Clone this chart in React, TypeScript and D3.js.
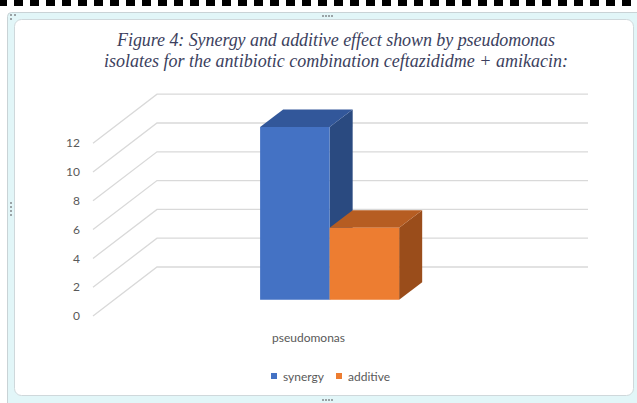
import React from "react";
import * as d3 from "d3";

const titleLines = [
  "Figure 4: Synergy and additive effect shown by pseudomonas",
  "isolates for the antibiotic combination ceftazididme + amikacin:",
];
const categories = ["pseudomonas"];
const seriesNames = ["synergy", "additive"];
const synergyValues = [12];
const additiveValues = [5];
const yTicks = [0, 2, 4, 6, 8, 10, 12];

const W = 637;
const H = 403;

const colors: Record<string, { front: string; top: string; side: string }> = {
  synergy: { front: "#4472C4", top: "#32579A", side: "#2A4A80" },
  additive: { front: "#ED7D31", top: "#B65D22", side: "#9A4D1B" },
};

export default function App() {
  const x0 = 93;
  const x1 = 524;
  const depth = { dx: 64, dy: -49 };
  const yFront = d3.scaleLinear().domain([0, 12]).range([316, 143.2]);
  const P = (x: number, v: number, z: number): [number, number] => [
    x + z * depth.dx,
    yFront(v) + z * depth.dy,
  ];
  const pts = (a: [number, number][]) => a.map((p) => p.join(",")).join(" ");

  const xCat = d3.scaleBand<string>().domain(categories).range([x0, x1]).paddingOuter(1.05).paddingInner(0);
  const xSer = d3.scaleBand<string>().domain(seriesNames).range([0, xCat.bandwidth()]);
  const zA = 0.33;
  const zB = 0.69;

  const seriesData: Record<string, number[]> = { synergy: synergyValues, additive: additiveValues };

  const bars: React.ReactNode[] = [];
  categories.forEach((c, ci) => {
    seriesNames.forEach((s) => {
      const v = seriesData[s][ci];
      const L = (xCat(c) as number) + (xSer(s) as number);
      const R = L + xSer.bandwidth();
      const col = colors[s];
      const side = [P(R, 0, zA), P(R, 0, zB), P(R, v, zB), P(R, v, zA)];
      const top = [P(L, v, zA), P(L, v, zB), P(R, v, zB), P(R, v, zA)];
      const front = [P(L, 0, zA), P(R, 0, zA), P(R, v, zA), P(L, v, zA)];
      bars.push(
        <g key={c + s}>
          <polygon points={pts(side)} fill={col.side} />
          <polygon points={pts(top)} fill={col.top} />
          <polygon points={pts(front)} fill={col.front} />
        </g>
      );
    });
  });

  const dashes = d3.range(-2, W, 16);

  return (
    <div style={{ position: "fixed", left: 0, top: 0, width: W, height: H, background: "#fff" }}>
      <svg width={W} height={H} style={{ display: "block" }}>
        <rect x={0} y={0} width={W} height={H} fill="#fff" />
        {dashes.map((d) => (
          <rect key={d} x={d} y={0} width={9} height={6} fill="#000" />
        ))}
        <rect x={7.5} y={12.5} width={640} height={400} rx={4} fill="#E2F6F8" stroke="#C9D3D6" />
        <rect x={14.5} y={19.5} width={619} height={376} rx={7} fill="#fff" stroke="#CFD8DB" />
        {[
          [11, 15],
          [15, 15],
          [11, 19],
        ].map(([x, y], i) => (
          <rect key={"c" + i} x={x - 1} y={y - 1} width={2} height={2} fill="#9AA3A6" />
        ))}
        {[0, 1, 2, 3].map((i) => (
          <rect key={"t" + i} x={322 + i * 3} y={15} width={2} height={2} fill="#9AA3A6" />
        ))}
        {[0, 1, 2, 3].map((i) => (
          <rect key={"l" + i} x={10} y={202 + i * 4} width={2} height={2} fill="#9AA3A6" />
        ))}
        {[0, 1, 2, 3].map((i) => (
          <rect key={"b" + i} x={322 + i * 3} y={399} width={2} height={2} fill="#9AA3A6" />
        ))}

        {titleLines.map((t, i) => (
          <text
            key={i}
            x={336}
            y={46 + i * 20.5}
            textAnchor="middle"
            fontFamily="'Liberation Serif', 'DejaVu Serif', serif"
            fontStyle="italic"
            fontSize={18}
            fill="#3C3F5E"
            textLength={i === 0 ? 438 : 464}
            lengthAdjust="spacing"
          >
            {t}
          </text>
        ))}

        {yTicks.map((v) => (
          <polyline
            key={"g" + v}
            points={pts([P(x0, v, 0), P(x0, v, 1), P(x1, v, 1)])}
            fill="none"
            stroke="#D9D9D9"
            strokeWidth={1.3}
          />
        ))}

        {yTicks.map((v) => (
          <text
            key={"y" + v}
            x={80}
            y={yFront(v)}
            dy="0.35em"
            textAnchor="end"
            fontFamily="Lato, 'Open Sans', sans-serif"
            fontSize={12}
            fill="#595959"
          >
            {v}
          </text>
        ))}

        {bars}

        {categories.map((c) => (
          <text
            key={c}
            x={(xCat(c) as number) + xCat.bandwidth() / 2}
            y={338}
            dy="0.35em"
            textAnchor="middle"
            fontFamily="Lato, 'Open Sans', sans-serif"
            fontSize={12}
            fill="#595959"
          >
            {c}
          </text>
        ))}

        {seriesNames.map((s, i) => {
          const lx = [271, 336][i];
          return (
            <g key={"lg" + s}>
              <rect x={lx} y={373} width={6} height={6} fill={colors[s].front} />
              <text
                x={lx + 12}
                y={376.5}
                dy="0.35em"
                fontFamily="Lato, 'Open Sans', sans-serif"
                fontSize={12}
                fill="#595959"
              >
                {s}
              </text>
            </g>
          );
        })}
      </svg>
    </div>
  );
}
